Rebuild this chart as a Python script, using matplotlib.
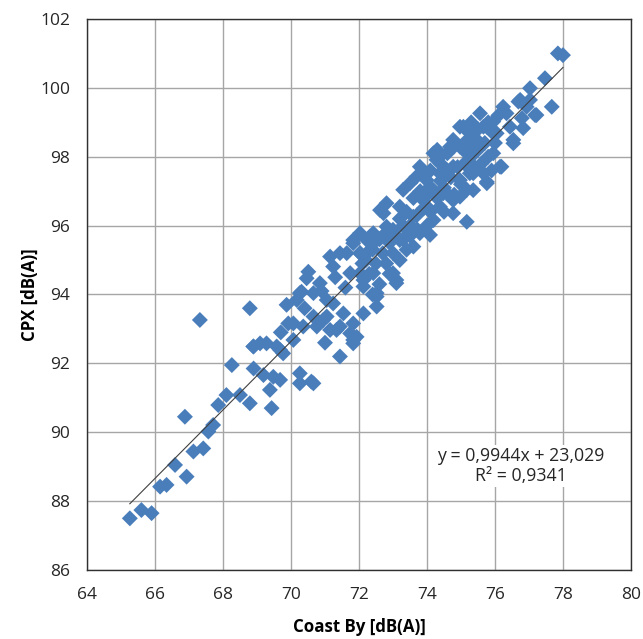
import matplotlib.pyplot as plt
import numpy as np

# Coast By vs CPX levels (dB(A))
coast_by = [
    65.26, 65.60, 65.90, 66.15, 66.34, 66.59, 66.93, 66.88, 67.13, 67.42,
    67.32, 67.57, 67.71, 67.86, 68.10, 68.50, 68.79, 68.26, 68.79, 68.90,
    69.09, 69.28, 68.90, 69.19, 69.48, 69.68, 69.38, 69.43, 70.26, 70.26,
    70.66, 71.44, 69.87, 70.07, 69.58, 69.77, 70.07, 70.36, 70.66, 70.26,
    70.66, 71.05, 70.95, 71.34, 71.74, 71.83, 71.54, 71.24, 70.85, 70.51,
    70.46, 70.31, 70.17, 69.92, 68.89, 69.68, 70.60, 71.15, 71.44, 71.93,
    71.83, 71.15, 71.44, 71.24, 71.74, 71.83, 70.76, 71.05, 72.13, 72.03,
    72.52, 72.52, 72.13, 71.83, 72.03, 72.03, 72.23, 72.42, 72.81, 73.20,
    73.40, 73.00, 73.10, 72.42, 72.32, 72.32, 72.52, 72.13, 71.64, 72.03,
    71.83, 72.42, 73.60, 73.10, 74.09, 75.17, 72.81, 72.72, 72.62, 73.20,
    73.30, 73.69, 73.79, 74.38, 74.19, 74.68, 74.28, 74.97, 75.26, 75.56,
    75.66, 75.76, 76.15, 76.54, 76.24, 76.74, 77.03, 77.47, 77.85, 78.00,
    77.67, 77.22, 76.83, 76.93, 76.34, 76.44, 76.19, 75.66, 75.76, 75.36,
    74.97, 74.58, 74.09, 73.60, 73.89, 74.38, 74.77, 74.19, 73.79, 73.40,
    73.00, 73.50, 74.97, 75.36, 75.95, 75.95, 75.36, 74.97, 75.26, 75.76,
    75.56, 75.17, 74.77, 74.38, 73.99, 73.99, 74.48, 74.77, 75.17, 75.07,
    75.95, 76.05, 76.69, 76.79, 77.18, 77.03, 76.54, 75.46, 74.77, 72.20,
    72.40, 72.60, 72.50, 72.70, 72.90, 72.30, 72.80, 73.00, 72.60, 72.90,
    73.20, 72.40, 73.10, 73.30, 73.30, 73.50, 73.70, 73.40, 73.60, 73.80,
    73.90, 74.00, 73.50, 73.20, 73.70, 74.10, 74.00, 73.90, 74.20, 74.40,
    74.60, 74.30, 74.50, 74.70, 74.90, 74.40, 74.60, 74.80, 74.50, 74.80,
    75.00, 74.10, 74.30, 75.10, 75.20, 75.30, 75.50, 75.40, 75.70, 75.80,
    75.60, 75.30, 75.50, 75.80, 76.00, 76.10, 75.90, 70.90, 71.30, 71.60,
    72.10, 72.80, 70.40, 69.70, 71.00,
]
cpx = [
    87.50, 87.74, 87.65, 88.42, 88.47, 89.05, 88.71, 90.45, 89.44, 89.53,
    93.26, 90.02, 90.21, 90.79, 91.08, 91.08, 90.84, 91.95, 93.60, 92.49,
    92.58, 92.58, 91.85, 91.66, 91.61, 91.52, 91.23, 90.70, 91.71, 91.42,
    91.42, 92.20, 93.70, 93.16, 92.49, 92.29, 92.68, 93.07, 93.36, 94.04,
    94.04, 93.84, 93.26, 92.97, 92.87, 93.16, 93.45, 93.74, 94.33, 94.66,
    94.47, 94.08, 93.84, 93.16, 92.49, 92.39, 91.47, 92.97, 93.07, 92.77,
    92.58, 95.10, 95.20, 94.81, 94.62, 95.49, 93.07, 93.36, 94.23, 94.62,
    93.94, 93.65, 93.45, 92.68, 95.78, 95.20, 95.58, 95.78, 95.97, 95.58,
    95.30, 94.62, 94.42, 94.62, 95.68, 95.29, 94.04, 94.42, 95.20, 95.20,
    95.58, 95.49, 95.39, 94.33, 95.73, 96.11, 96.65, 96.36, 96.45, 96.55,
    97.04, 97.42, 97.71, 98.00, 98.10, 98.29, 97.91, 98.87, 97.52, 99.26,
    97.52, 97.23, 97.71, 98.39, 99.45, 99.65, 99.99, 100.28, 101.00, 100.95,
    99.45, 99.21, 98.83, 99.45, 99.26, 98.87, 97.71, 98.87, 97.27, 97.03,
    96.84, 96.94, 97.13, 96.26, 96.74, 96.55, 96.36, 96.16, 95.78, 95.88,
    95.88, 97.23, 97.32, 97.52, 98.10, 98.68, 98.29, 98.29, 98.68, 98.87,
    98.39, 98.10, 97.71, 97.52, 97.32, 96.56, 96.94, 96.74, 97.04, 98.87,
    99.02, 98.68, 99.60, 99.12, 99.21, 99.65, 98.49, 98.49, 98.49, 95.00,
    95.30, 95.60, 94.90, 95.20, 95.50, 94.60, 94.90, 95.20, 94.30, 94.60,
    95.00, 94.00, 95.70, 96.00, 95.60, 96.00, 96.30, 96.40, 96.80, 97.00,
    96.50, 96.00, 95.70, 96.20, 95.90, 96.40, 96.90, 97.50, 97.00, 97.30,
    97.60, 96.80, 97.10, 97.40, 97.70, 97.80, 98.10, 98.30, 96.40, 96.90,
    97.20, 97.60, 98.20, 97.80, 98.50, 98.00, 98.20, 97.70, 98.40, 98.00,
    97.80, 99.00, 98.80, 99.00, 98.40, 99.20, 97.60, 94.10, 94.50, 94.20,
    94.90, 95.80, 93.60, 92.90, 92.60,
]
xticks = [64, 66, 68, 70, 72, 74, 76, 78, 80]
yticks = [86, 88, 90, 92, 94, 96, 98, 100, 102]
slope, intercept, r2 = 0.9944, 23.029, 0.9341

plt.rcParams['font.family'] = ['Open Sans', 'DejaVu Sans']

fig = plt.figure(figsize=(6.43, 6.39), dpi=100)
ax = fig.add_axes([0.1353, 0.108, 0.8460, 0.8623])

ax.grid(True, color='#a6a6a6', linewidth=1.0, zorder=0)
ax.set_axisbelow(True)

ax.scatter(coast_by, cpx, marker='D', s=66, color='#4a7ebb',
           edgecolors='none', zorder=3)

xl = np.array([min(coast_by), max(coast_by)])
ax.plot(xl, slope * xl + intercept, color='#404040', linewidth=0.8, zorder=4)

ax.text(76.75, 89.02, 'y = 0,9944x + 23,029\nR² = 0,9341', ha='center',
        va='center', fontsize=12.8, color='#262626', linespacing=1.15,
        bbox=dict(facecolor='white', edgecolor='none', pad=1.5), zorder=5)

ax.set_xlim(64, 80)
ax.set_ylim(86, 102)
ax.set_xticks(xticks)
ax.set_yticks(yticks)
ax.tick_params(length=0, labelsize=12.5, colors='#262626')
ax.tick_params(axis='x', pad=12)
ax.tick_params(axis='y', pad=12)
for s in ax.spines.values():
    s.set_color('#303030')
    s.set_linewidth(1.0)

ax.set_xlabel('Coast By [dB(A)]', fontsize=12.2, fontweight='bold', va='center')
ax.set_ylabel('CPX [dB(A)]', fontsize=12.2, fontweight='bold', va='center')
ax.xaxis.set_label_coords(0.5, -0.103)
ax.yaxis.set_label_coords(-0.105, 0.5)

fig.savefig('out.png', dpi=100)
